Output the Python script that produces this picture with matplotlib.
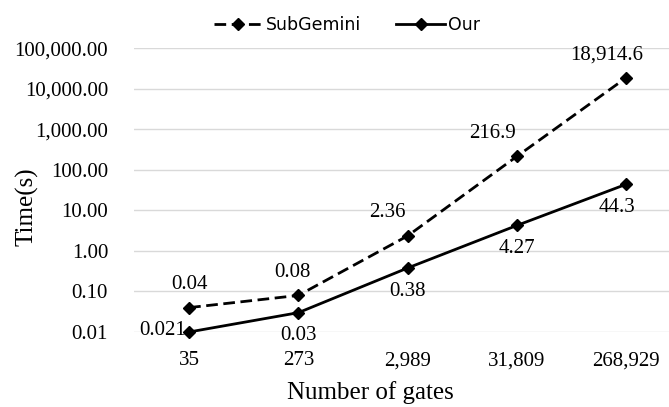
import numpy as np
import matplotlib
matplotlib.use('Agg')
from matplotlib import pyplot as plt

gates = ['35', '273', '2,989', '31,809', '268,929']

subgemini = [0.04, 0.08, 2.36, 216.9, 18914.6]
subgemini_labels = ['0.04', '0.08', '2.36', '216.9', '18,914.6']

our = [0.01, 0.03, 0.38, 4.27, 44.3]
our_labels = ['0.021', '0.03', '0.38', '4.27', '44.3']

y_ticks = [0.01, 0.1, 1, 10, 100, 1000, 10000, 100000]
y_tick_labels = ['0.01', '0.10', '1.00', '10.00', '100.00', '1,000.00', '10,000.00', '100,000.00']

serif = 'Liberation Serif'

fig = plt.figure(figsize=(6.69, 4.07), dpi=100)
# plot area runs past the right edge, like the cropped original
ax = fig.add_axes([0.201, 0.1843, 0.8166, 0.6966])

x = np.arange(len(gates))

ax.plot(x, subgemini, color='black', lw=2.0, dashes=(4.2, 2.0),
        marker='D', ms=6.5, mew=1, clip_on=False, zorder=3, label='SubGemini')
ax.plot(x, our, color='black', lw=2.0,
        marker='D', ms=6.5, mew=1, clip_on=False, zorder=3, label='Our')

ax.set_yscale('log')
ax.set_ylim(0.01, 100000)
ax.set_xlim(-0.5, len(gates) - 0.5)

ax.set_yticks(y_ticks)
ax.set_yticklabels(y_tick_labels, fontfamily=serif, fontsize=15)
ax.yaxis.set_minor_locator(matplotlib.ticker.NullLocator())
ax.set_xticks(x)
ax.set_xticklabels(gates, fontfamily=serif, fontsize=15)
ax.tick_params(axis='y', length=0, pad=19)
ax.tick_params(axis='x', length=0, pad=14)

ax.grid(axis='y', color='#d9d9d9', lw=1.0)
ax.set_axisbelow(True)
for s in ax.spines.values():
    s.set_visible(False)

# data labels
sub_dx = [0, -6, -20, -24, -19]
for i, (v, t) in enumerate(zip(subgemini, subgemini_labels)):
    ax.annotate(t, (x[i], v), xytext=(sub_dx[i], 23), textcoords='offset pixels',
                ha='center', va='center', fontfamily=serif, fontsize=15,
                annotation_clip=False)

our_dx = [0, 0, 0, 0, -9]
for i, (v, t) in enumerate(zip(our, our_labels)):
    if i == 0:
        ax.annotate(t, (x[i], v), xytext=(-3, 1), textcoords='offset pixels',
                    ha='right', va='center', fontfamily=serif, fontsize=15,
                    annotation_clip=False)
    else:
        ax.annotate(t, (x[i], v), xytext=(our_dx[i], -23), textcoords='offset pixels',
                    ha='center', va='center', fontfamily=serif, fontsize=15,
                    annotation_clip=False)

ax.set_xlabel('Number of gates', fontfamily=serif, fontsize=18)
ax.xaxis.set_label_coords(0.431, -0.215)
ax.xaxis.label.set_va('center')
ax.set_ylabel('Time(s)', fontfamily=serif, fontsize=18)
ax.yaxis.set_label_coords(-0.197, 0.441)
ax.yaxis.label.set_va('center')

fig.legend(loc='center', bbox_to_anchor=(0.519, 0.938), ncol=2, frameon=False,
           prop={'family': 'DejaVu Sans', 'size': 12.5},
           handlelength=2.8, handletextpad=0.2, columnspacing=2.0, borderpad=0.2)

fig.savefig('out.png', dpi=100)
